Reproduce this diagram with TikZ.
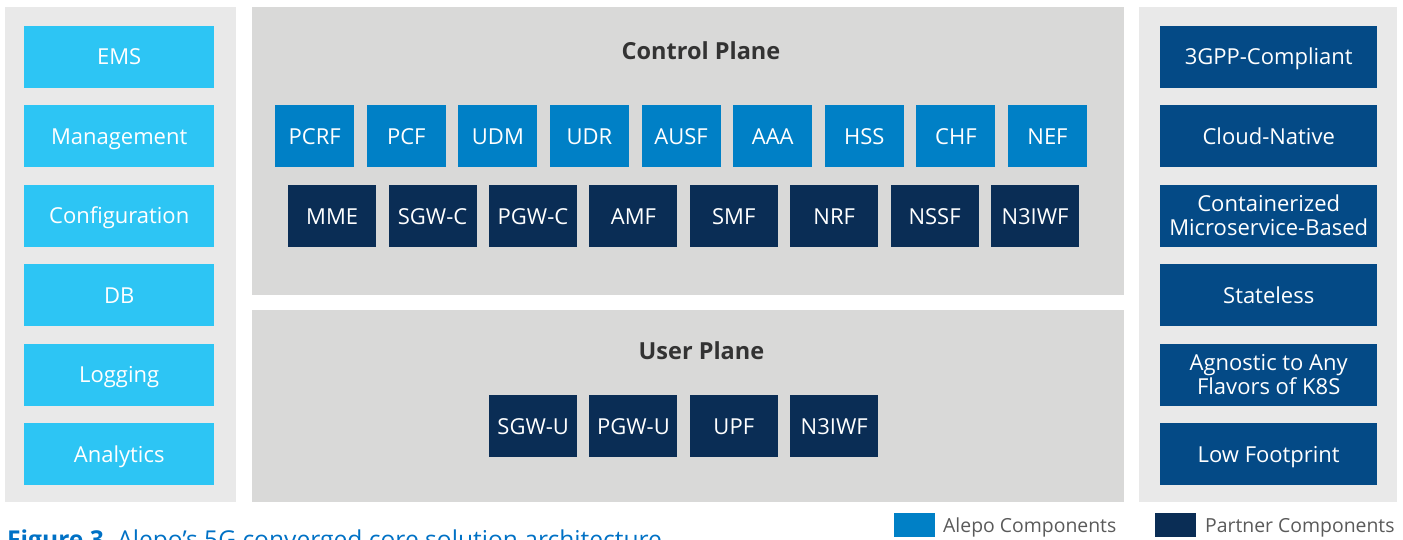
\documentclass[tikz,border=0pt]{standalone}
\usepackage{fontspec}
\setmainfont{Open Sans}
\definecolor{cyanbox}{HTML}{2DC5F4}
\definecolor{alepo}{HTML}{0080C6}
\definecolor{partner}{HTML}{0A2D55}
\definecolor{rightblue}{HTML}{044A86}
\definecolor{sidepanel}{HTML}{E9E9E9}
\definecolor{midpanel}{HTML}{D9D9D8}
\definecolor{titletext}{HTML}{333333}
\definecolor{legendtext}{HTML}{5A5A5A}
\definecolor{captionblue}{HTML}{0071C5}
\begin{document}
\begin{tikzpicture}[x=1pt,y=-1pt,
  boxbase/.style={rectangle,anchor=north west,inner sep=0pt,text=white,
    font=\fontsize{22}{24}\selectfont,align=center},
  oneline/.style={text height=15.7pt,text depth=0pt},
  sidebox/.style={boxbase,oneline,fill=cyanbox,minimum width=190pt,minimum height=62pt},
  featbox/.style={boxbase,oneline,fill=rightblue,minimum width=217pt,minimum height=62pt},
  featboxtwo/.style={boxbase,fill=rightblue,minimum width=217pt,minimum height=62pt},
  alepobox/.style={boxbase,oneline,fill=alepo,minimum width=79pt,minimum height=62pt},
  partnerbox/.style={boxbase,oneline,fill=partner,minimum width=88pt,minimum height=62pt},
  planetitle/.style={text=titletext,inner sep=0pt,text height=16.8pt,text depth=0pt,
    font=\fontsize{23.5}{26}\selectfont\bfseries},
  swatch/.style={rectangle,anchor=north west,inner sep=0pt,minimum width=41pt,minimum height=24pt,fill=#1},
  legendlabel/.style={anchor=west,inner sep=0pt,text=legendtext,text height=13.5pt,text depth=0pt,
    font=\fontsize{19.4}{22}\selectfont}
]
\useasboundingbox (0,0) rectangle (1403,540);
% panels
\fill[sidepanel] (5,7) rectangle (236,502);
\fill[midpanel] (252,7) rectangle (1124,295);
\fill[midpanel] (252,310) rectangle (1124,502);
\fill[sidepanel] (1139,7) rectangle (1397,502);
% left column
\node[sidebox] (ems)  at (24,25.5)  {EMS};
\node[sidebox] (mgmt) at (24,105)   {Management};
\node[sidebox] (conf) at (24,184.5) {Configuration};
\node[sidebox] (db)   at (24,264)   {DB};
\node[sidebox] (log)  at (24,343.5) {Logging};
\node[sidebox] (ana)  at (24,423)   {Analytics};
% right column
\node[featbox] (f1) at (1160,25.5)  {3GPP-Compliant};
\node[featbox] (f2) at (1160,105)   {Cloud-Native};
\node[featboxtwo] (f3) at (1160,184.5) {Containerized\\Microservice-Based};
\node[featbox] (f4) at (1160,264)   {Stateless};
\node[featboxtwo] (f5) at (1160,343.5) {Agnostic to Any\\Flavors of K8S};
\node[featbox] (f6) at (1160,423)   {Low Footprint};
% control plane
\node[planetitle] (cptitle) at (701,51.5) {Control Plane};
\node[alepobox] (pcrf) at (275,105)   {PCRF};
\node[alepobox] (pcf)  at (366.6,105) {PCF};
\node[alepobox] (udm)  at (458.2,105) {UDM};
\node[alepobox] (udr)  at (549.8,105) {UDR};
\node[alepobox] (ausf) at (641.4,105) {AUSF};
\node[alepobox] (aaa)  at (733,105)   {AAA};
\node[alepobox] (hss)  at (824.6,105) {HSS};
\node[alepobox] (chf)  at (916.2,105) {CHF};
\node[alepobox] (nef)  at (1007.8,105) {NEF};
\node[partnerbox] (mme)  at (288,185)   {MME};
\node[partnerbox] (sgwc) at (388.4,185) {SGW-C};
\node[partnerbox] (pgwc) at (488.8,185) {PGW-C};
\node[partnerbox] (amf)  at (589.2,185) {AMF};
\node[partnerbox] (smf)  at (689.6,185) {SMF};
\node[partnerbox] (nrf)  at (790,185)   {NRF};
\node[partnerbox] (nssf) at (890.4,185) {NSSF};
\node[partnerbox] (niwfc) at (990.8,185) {N3IWF};
% user plane
\node[planetitle] (uptitle) at (701.5,351.5) {User Plane};
\node[partnerbox] (sgwu) at (489,395) {SGW-U};
\node[partnerbox] (pgwu) at (589.2,395) {PGW-U};
\node[partnerbox] (upf)  at (689.6,395) {UPF};
\node[partnerbox] (niwfu) at (790,395) {N3IWF};
% legend
\node[swatch=alepo] (sw1) at (894,512.5) {};
\node[legendlabel] (lg1) at (943,525.5) {Alepo Components};
\node[swatch=partner] (sw2) at (1155,512.5) {};
\node[legendlabel] (lg2) at (1205,525.5) {Partner Components};
% caption (cut off by the page edge, as in the reference)
\node[anchor=north west,inner sep=0pt,text=captionblue,text height=17.5pt,
  font=\fontsize{24.6}{28}\selectfont] (cap) at (7,531)
  {\textbf{Figure 3.}\ Alepo’s 5G converged core solution architecture};
\end{tikzpicture}
\end{document}
